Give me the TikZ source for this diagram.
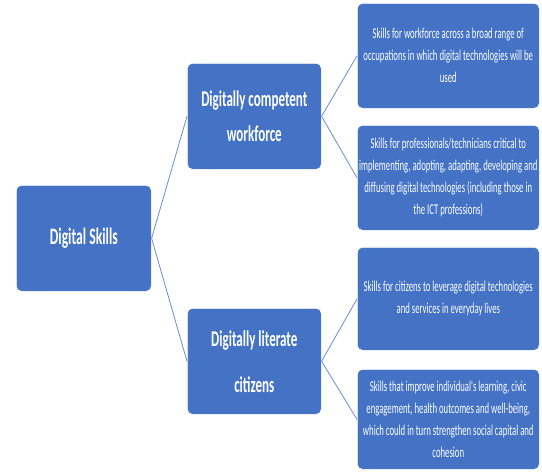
\documentclass[tikz,border=0pt]{standalone}
\usepackage{fontspec}
% Condensed Calibri-metric face for all box labels
\newfontfamily\boxfont[FakeStretch=0.58]{Carlito}
\definecolor{boxblue}{HTML}{4472C4}
\definecolor{linkblue}{RGB}{108,140,206}
\tikzset{
  box/.style={draw=white, line width=0.6pt, fill=boxblue, rounded corners=5pt,
    text=white, align=center, inner sep=0pt, anchor=north west},
  rootbox/.style={box, minimum width=135pt, minimum height=106pt,
    font={\boxfont\bfseries\fontsize{23.5}{28}\selectfont}},
  midbox/.style={box, minimum width=134pt, minimum height=106pt},
  leafbox/.style={box, minimum width=182pt, minimum height=105pt,
    font={\boxfont\fontsize{15}{22}\selectfont}},
  link/.style={draw=linkblue, line width=0.8pt}
}
\begin{document}
\begin{tikzpicture}[x=1pt,y=-1pt]
\useasboundingbox (0,0) rectangle (542,472);

% root
\node[rootbox] (root) at (16,185) {Digital Skills};

% second level
\node[midbox, font={\boxfont\bfseries\fontsize{22.5}{35}\selectfont}] (work) at (187,63)
  {Digitally competent\\workforce};
\node[midbox, font={\boxfont\bfseries\fontsize{22.5}{46}\selectfont}] (cit) at (187,308)
  {Digitally literate\\citizens};

% leaves
\node[leafbox] (w1) at (357,3)
  {Skills for workforce across a broad range of\\occupations in which digital technologies will be\\used};
\node[leafbox] (w2) at (357,125)
  {Skills for professionals/technicians critical to\\implementing, adopting, adapting, developing and\\diffusing digital technologies (including those in\\the ICT professions)};
\node[leafbox, minimum height=103pt] (c1) at (357,247)
  {Skills for citizens to leverage digital technologies\\and services in everyday lives};
\node[leafbox, minimum height=100pt] (c2) at (357,369)
  {Skills that improve individual's learning, civic\\engagement, health outcomes and well-being,\\which could in turn strengthen social capital and\\cohesion};

% connectors
\draw[link] (root.east) -- (work.west);
\draw[link] (root.east) -- (cit.west);
\draw[link] (work.east) -- (w1.west);
\draw[link] (work.east) -- (w2.west);
\draw[link] (cit.east) -- (c1.west);
\draw[link] (cit.east) -- (c2.west);
\end{tikzpicture}
\end{document}
